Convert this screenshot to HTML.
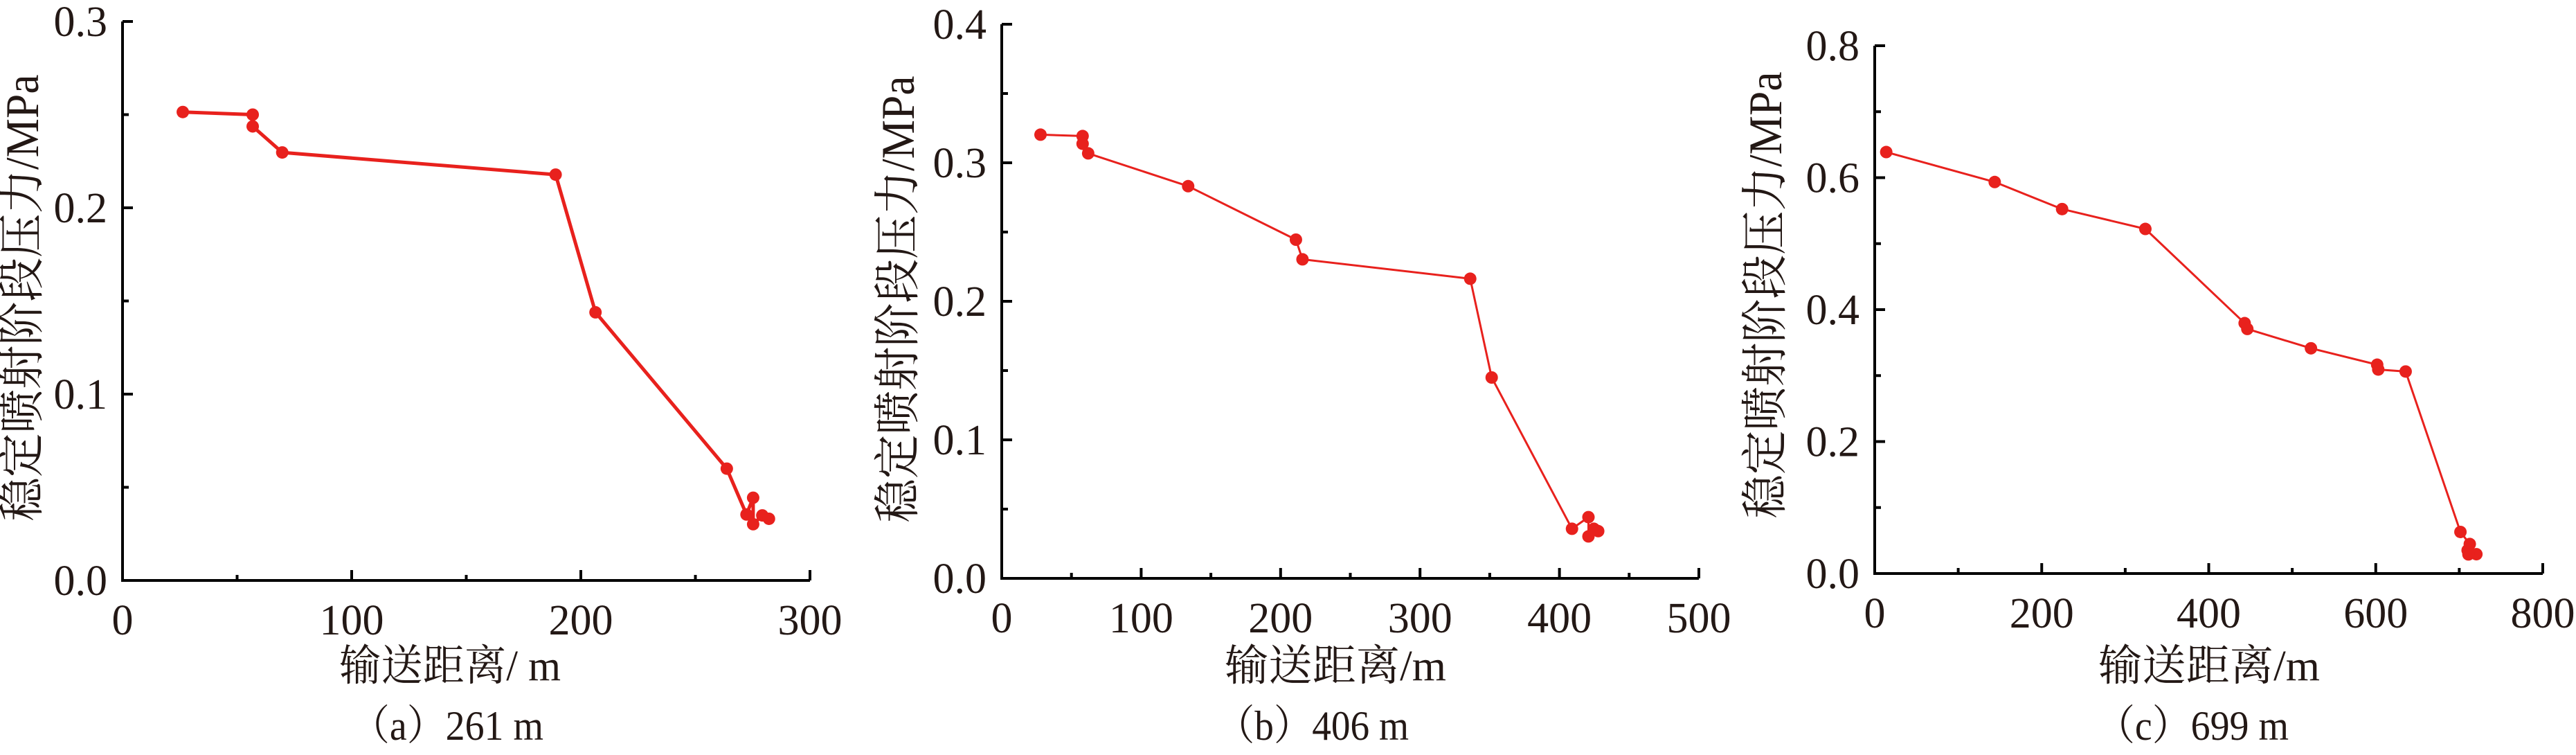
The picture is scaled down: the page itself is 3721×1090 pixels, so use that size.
<!DOCTYPE html>
<html><head><meta charset="utf-8"><style>
html,body{margin:0;padding:0;background:#fff;}
svg{display:block;}
text{font-family:"Liberation Serif","Noto Serif CJK SC",serif;fill:#231815;}
</style></head><body>
<svg id="fig" width="3721" height="1090" viewBox="0 0 3721 1090" xmlns="http://www.w3.org/2000/svg"></svg>
<script>
// Panel (a) 261 m
const aDist = [26.3, 56.8, 56.8, 69.7, 189, 206.4, 263.7, 272.3, 275.2, 275.2, 279.2, 282.1];
const aPress = [0.2514, 0.250, 0.2437, 0.2297, 0.2178, 0.1439, 0.0600, 0.0354, 0.0444, 0.0302, 0.0349, 0.0331];
const aXTicks = ["0", "100", "200", "300"];
const aYTicks = ["0.0", "0.1", "0.2", "0.3"];
// Panel (b) 406 m
const bDist = [27.8, 58, 58, 62, 133.7, 211, 215.7, 336, 351.4, 409, 420.8, 420.8, 424.7, 427.8];
const bPress = [0.3203, 0.3193, 0.3137, 0.3068, 0.2831, 0.2445, 0.2303, 0.2163, 0.1450, 0.0358, 0.0442, 0.0303, 0.0358, 0.0341];
const bXTicks = ["0", "100", "200", "300", "400", "500"];
const bYTicks = ["0.0", "0.1", "0.2", "0.3", "0.4"];
// Panel (c) 699 m
const cDist = [13.8, 143.7, 224.4, 324.1, 443, 446.2, 522.4, 601.7, 603, 635.8, 701.4, 712.6, 710, 720.5, 711];
const cPress = [0.6388, 0.5934, 0.5524, 0.5223, 0.3795, 0.3707, 0.3414, 0.3165, 0.3092, 0.3062, 0.0630, 0.0447, 0.0352, 0.0293, 0.029];
const cXTicks = ["0", "200", "400", "600", "800"];
const cYTicks = ["0.0", "0.2", "0.4", "0.6", "0.8"];

const NS = "http://www.w3.org/2000/svg";
const svg = document.getElementById("fig");
function mk(tag, attrs, parent) {
  const e = document.createElementNS(NS, tag);
  for (const k in attrs) e.setAttribute(k, attrs[k]);
  (parent || svg).appendChild(e);
  return e;
}
function panel(p) {
  const g = mk("g", {});
  
  
  const xMax = parseFloat(p.xt[p.xt.length - 1]);
  const yMax = parseFloat(p.yt[p.yt.length - 1]);
  const sx = v => p.L + (v / xMax) * (p.R - p.L);
  const sy = v => p.B - (v / yMax) * (p.B - p.T);
  const axis = mk("path", {d: `M${p.L},${p.T} L${p.L},${p.B} L${p.R},${p.B}`, fill: "none", stroke: "#000", "stroke-width": 4}, g);
  
  
  const xStep = parseFloat(p.xt[1]);
  const yStep = parseFloat(p.yt[1]);
  // x ticks
  for (let i = 0; i < p.xt.length; i++) {
    const v = parseFloat(p.xt[i]);
    const x = sx(v);
    if (i > 0) mk("line", {x1: x, y1: p.B, x2: x, y2: p.B - 15, stroke: "#000", "stroke-width": 4}, g);
    if (i < p.xt.length - 1) { const xm = sx(v + xStep / 2); mk("line", {x1: xm, y1: p.B, x2: xm, y2: p.B - 8, stroke: "#000", "stroke-width": 4}, g); }
    const t = mk("text", {x: x, y: p.B + 78, "font-size": 62, "text-anchor": "middle"}, g);
    t.textContent = p.xt[i];
    
    
  }
  for (let i = 0; i < p.yt.length; i++) {
    const v = parseFloat(p.yt[i]);
    const y = sy(v);
    if (i > 0) mk("line", {x1: p.L, y1: y, x2: p.L + 15, y2: y, stroke: "#000", "stroke-width": 4}, g);
    if (i < p.yt.length - 1) { const ym = sy(v + yStep / 2); mk("line", {x1: p.L, y1: ym, x2: p.L + 9, y2: ym, stroke: "#000", "stroke-width": 4}, g); }
    const t = mk("text", {x: p.L - 22, y: y + 21, "font-size": 62, "text-anchor": "end"}, g);
    t.textContent = p.yt[i];
    
    
  }
  // series
  const pts = p.xs.map((v, i) => sx(v) + "," + sy(p.ys[i])).join(" ");
  const line = mk("polyline", {points: pts, fill: "none", stroke: "#e8211d", "stroke-width": p.lw, "stroke-linejoin": "round"}, g);
  
  
  for (let i = 0; i < p.xs.length; i++) {
    const c = mk("circle", {cx: sx(p.xs[i]), cy: sy(p.ys[i]), r: 9, fill: "#e8211d"}, g);
    
    
  }
  const yt = mk("text", {x: 0, y: 0, "font-size": 68, "text-anchor": "middle", transform: `translate(${p.yx},${p.yc}) rotate(-90)`, textLength: 645, lengthAdjust: "spacingAndGlyphs"}, g);
  yt.textContent = "稳定喷射阶段压力/MPa";
  
  
  const xt = mk("text", {x: p.xc, y: 982, "font-size": 62, "text-anchor": "middle", textLength: 320, lengthAdjust: "spacingAndGlyphs"}, g);
  xt.textContent = p.xtitle;
  
  
  const cap = mk("text", {x: p.cc, y: 1068, "font-size": 60, "text-anchor": "middle", textLength: 278, lengthAdjust: "spacingAndGlyphs"}, g);
  cap.textContent = p.cap;
  
  
}
panel({name: "panel-a", L: 177, R: 1170, T: 31, B: 838, xs: aDist, ys: aPress, xt: aXTicks, yt: aYTicks, lw: 5, yx: 55, yc: 430, xc: 650, xtitle: "输送距离/ m", cc: 646, cap: "（a）261 m"});
panel({name: "panel-b", L: 1447, R: 2454, T: 35, B: 835, xs: bDist, ys: bPress, xt: bXTicks, yt: bYTicks, lw: 3, yx: 1320, yc: 432, xc: 1929, xtitle: "输送距离/m", cc: 1896, cap: "（b）406 m"});
panel({name: "panel-c", L: 2708, R: 3673, T: 66, B: 828, xs: cDist, ys: cPress, xt: cXTicks, yt: cYTicks, lw: 3, yx: 2573, yc: 426, xc: 3191, xtitle: "输送距离/m", cc: 3167, cap: "（c）699 m"});
</script>
</body></html>
